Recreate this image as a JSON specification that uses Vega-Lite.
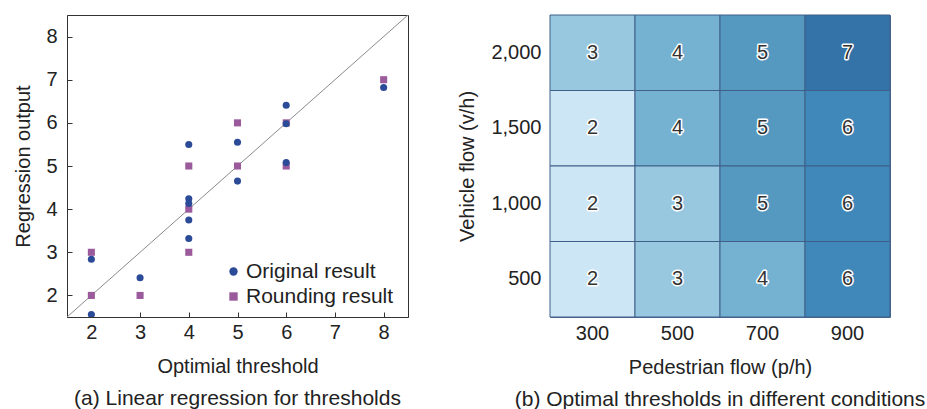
{
  "$schema": "https://vega.github.io/schema/vega-lite/v6.json",
  "padding": {"left": 13, "top": 14, "right": 0, "bottom": 0},
  "background": "white",
  "spacing": 48,
  "config": {
    "font": "Liberation Sans",
    "axis": {"labelFontSize": 20, "titleFontSize": 20, "labelColor": "#222", "titleColor": "#222", "titleFontWeight": "normal", "grid": false},
    "legend": {"labelFontSize": 21, "labelColor": "#222"},
    "title": {"fontSize": 21, "fontWeight": "normal", "color": "#222"}
  },
  "hconcat": [
    {
      "width": 341,
      "height": 302,
      "view": {"stroke": "#333", "strokeWidth": 1},
      "title": {"text": "(a) Linear regression for thresholds", "orient": "bottom", "offset": 12},
      "data": {"values": [
        {"t": 2, "v": 3, "s": "Rounding result"},
        {"t": 2, "v": 2, "s": "Rounding result"},
        {"t": 3, "v": 2, "s": "Rounding result"},
        {"t": 4, "v": 5, "s": "Rounding result"},
        {"t": 4, "v": 4, "s": "Rounding result"},
        {"t": 4, "v": 3, "s": "Rounding result"},
        {"t": 5, "v": 6, "s": "Rounding result"},
        {"t": 5, "v": 5, "s": "Rounding result"},
        {"t": 6, "v": 6, "s": "Rounding result"},
        {"t": 6, "v": 5, "s": "Rounding result"},
        {"t": 8, "v": 7, "s": "Rounding result"},
        {"t": 2, "v": 2.84, "s": "Original result"},
        {"t": 2, "v": 1.56, "s": "Original result"},
        {"t": 3, "v": 2.41, "s": "Original result"},
        {"t": 4, "v": 5.5, "s": "Original result"},
        {"t": 4, "v": 4.24, "s": "Original result"},
        {"t": 4, "v": 4.13, "s": "Original result"},
        {"t": 4, "v": 3.75, "s": "Original result"},
        {"t": 4, "v": 3.32, "s": "Original result"},
        {"t": 5, "v": 5.55, "s": "Original result"},
        {"t": 5, "v": 4.65, "s": "Original result"},
        {"t": 6, "v": 6.41, "s": "Original result"},
        {"t": 6, "v": 5.98, "s": "Original result"},
        {"t": 6, "v": 5.08, "s": "Original result"},
        {"t": 8, "v": 6.82, "s": "Original result"}
      ]},
      "encoding": {
        "x": {"field": "t", "type": "quantitative", "scale": {"domain": [1.5, 8.5], "nice": false, "zero": false},
          "axis": {"values": [2, 3, 4, 5, 6, 7, 8], "title": "Optimial threshold", "tickSize": -5, "labelPadding": 10, "titlePadding": 14, "domainColor": "#333", "tickColor": "#333"}},
        "y": {"field": "v", "type": "quantitative", "scale": {"domain": [1.5, 8.5], "nice": false, "zero": false},
          "axis": {"values": [2, 3, 4, 5, 6, 7, 8], "title": "Regression output", "tickSize": -5, "labelPadding": 15, "titlePadding": 12, "domainColor": "#333", "tickColor": "#333"}}
      },
      "layer": [
        {
          "data": {"values": [{"t": 1.5, "v": 1.5}, {"t": 8.5, "v": 8.5}]},
          "mark": {"type": "line", "color": "#8a8a8a", "strokeWidth": 1, "clip": true},
          "encoding": {}
        },
        {
          "transform": [{"filter": "datum.s === 'Rounding result'"}],
          "mark": {"type": "point", "shape": "square", "filled": true, "opacity": 1, "size": 50, "clip": true},
          "encoding": {
            "color": {"field": "s", "type": "nominal", "scale": {"domain": ["Original result", "Rounding result"], "range": ["#2b4a98", "#9a5a9c"]},
              "legend": {"title": null, "orient": "none", "legendX": 156, "legendY": 246, "symbolSize": 70, "rowPadding": 3, "labelOffset": 2,
                "symbolType": {"expr": "datum.value === 'Rounding result' ? 'square' : 'circle'"},
                "encode": {"symbols": {"enter": {"shape": {"signal": "datum.value === 'Rounding result' ? 'square' : 'circle'"}}, "update": {"shape": {"signal": "datum.value === 'Rounding result' ? 'square' : 'circle'"}}}}}}
          }
        },
        {
          "transform": [{"filter": "datum.s === 'Original result'"}],
          "mark": {"type": "point", "shape": "circle", "filled": true, "opacity": 1, "size": 50, "clip": true},
          "encoding": {
            "color": {"field": "s", "type": "nominal"}
          }
        }
      ]
    },
    {
      "width": 340,
      "height": 302,
      "view": {"stroke": "#4a6a92", "strokeWidth": 1},
      "title": {"text": "(b) Optimal thresholds in different conditions", "orient": "bottom", "offset": 12},
      "data": {"values": [
        {"p": "300", "q": "2,000", "n": 3}, {"p": "500", "q": "2,000", "n": 4}, {"p": "700", "q": "2,000", "n": 5}, {"p": "900", "q": "2,000", "n": 7},
        {"p": "300", "q": "1,500", "n": 2}, {"p": "500", "q": "1,500", "n": 4}, {"p": "700", "q": "1,500", "n": 5}, {"p": "900", "q": "1,500", "n": 6},
        {"p": "300", "q": "1,000", "n": 2}, {"p": "500", "q": "1,000", "n": 3}, {"p": "700", "q": "1,000", "n": 5}, {"p": "900", "q": "1,000", "n": 6},
        {"p": "300", "q": "500", "n": 2}, {"p": "500", "q": "500", "n": 3}, {"p": "700", "q": "500", "n": 4}, {"p": "900", "q": "500", "n": 6}
      ]},
      "encoding": {
        "x": {"field": "p", "type": "ordinal", "sort": ["300", "500", "700", "900"],
          "axis": {"title": "Pedestrian flow (p/h)", "labelAngle": 0, "ticks": false, "domain": false, "labelPadding": 6, "titlePadding": 14}},
        "y": {"field": "q", "type": "ordinal", "sort": ["2,000", "1,500", "1,000", "500"],
          "axis": {"title": "Vehicle flow (v/h)", "ticks": false, "domain": false, "labelPadding": 9, "titlePadding": 13}}
      },
      "layer": [
        {
          "mark": {"type": "rect", "stroke": "#3f5f88", "strokeWidth": 1},
          "encoding": {
            "fill": {"field": "n", "type": "quantitative", "legend": null,
              "scale": {"domain": [2, 3, 4, 5, 6, 7], "range": ["#cde6f6", "#98c8df", "#75b1d1", "#5699c0", "#3f88b9", "#3373a8"]}}
          }
        },
        {
          "mark": {"type": "text", "fontSize": 20, "stroke": "white", "strokeWidth": 3, "fill": "white", "strokeJoin": "round"},
          "encoding": {"text": {"field": "n", "type": "quantitative"}}
        },
        {
          "mark": {"type": "text", "fontSize": 20, "fill": "#333"},
          "encoding": {"text": {"field": "n", "type": "quantitative"}}
        }
      ]
    }
  ]
}
